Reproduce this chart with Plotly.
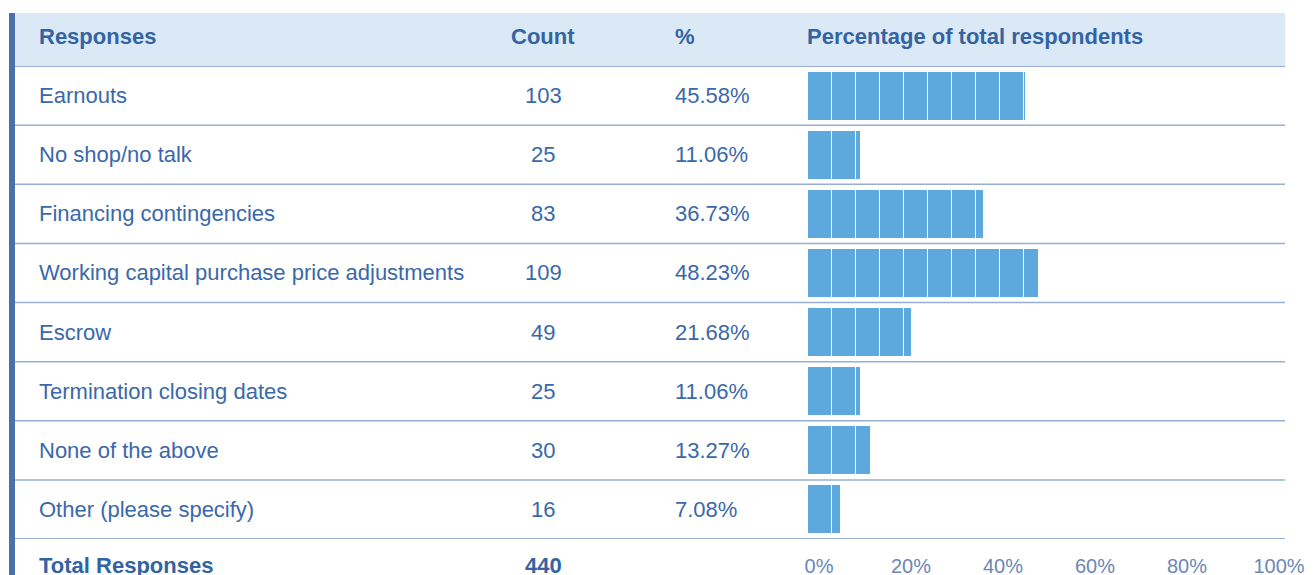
import plotly.graph_objects as go

# ---- data ----
responses = [
    "Earnouts",
    "No shop/no talk",
    "Financing contingencies",
    "Working capital purchase price adjustments",
    "Escrow",
    "Termination closing dates",
    "None of the above",
    "Other (please specify)",
]
counts = [103, 25, 83, 109, 49, 25, 30, 16]
percents = [45.58, 11.06, 36.73, 48.23, 21.68, 11.06, 13.27, 7.08]
total_label = "Total Responses"
total_count = 440
headers = ["Responses", "Count", "%", "Percentage of total respondents"]
tick_values = [0, 20, 40, 60, 80, 100]
tick_labels = ["0%", "20%", "40%", "60%", "80%", "100%"]
segment_size = 5  # bars are drawn as 5% blocks

# ---- styling ----
W, H = 1315, 575
OFF = 8  # page body margin
FONT = "Liberation Sans, Arial, Helvetica, sans-serif"
TXT = "#3A68AA"
HDR_TXT = "#3363A2"
BAR = "#5DA9DD"
HDR_BG = "#DBE9F6"
LINE = "#97AFD2"
LEFTBAR = "#4D6FAA"
TICK = "#6C86B7"

def px_x(p):
    return (p - OFF) / W

def px_y(p):
    return 1 - (p - OFF) / H

fig = go.Figure()

# stacked 5% segments
n_seg = int(max(percents) // segment_size) + 1
for k in range(n_seg):
    seg = [min(max(p - k * segment_size, 0), segment_size) for p in percents]
    fig.add_trace(go.Bar(
        x=seg, y=responses, orientation="h",
        marker=dict(color=BAR, line=dict(color="white", width=1)),
        width=0.83, hoverinfo="skip", showlegend=False,
    ))
# empty trace so the label axis is drawn
fig.add_trace(go.Scatter(x=[], y=[], xaxis="x2", yaxis="y",
                         showlegend=False, hoverinfo="skip"))

fig.update_layout(
    width=W, height=H,
    margin=dict(l=0, r=0, t=0, b=0, autoexpand=False),
    paper_bgcolor="white", plot_bgcolor="rgba(0,0,0,0)",
    barmode="stack",
    font=dict(family=FONT, color=TXT, size=22),
    xaxis=dict(
        domain=[px_x(807), px_x(1287)], range=[0, 100],
        showticklabels=False,
        showgrid=False, zeroline=False, showline=False, ticks="",
        automargin=False, fixedrange=True,
    ),
    xaxis2=dict(
        domain=[px_x(819), px_x(1279)], range=[0, 100], anchor="y",
        tickvals=tick_values, ticktext=tick_labels,
        showgrid=False, zeroline=False, showline=False, ticks="",
        tickfont=dict(size=20, color=TICK, family=FONT),
        ticklabelstandoff=13, automargin=False, fixedrange=True,
    ),
    yaxis=dict(
        domain=[px_y(539), px_y(66)], type="category",
        categoryorder="array", categoryarray=responses,
        range=[len(responses) - 0.5, -0.5],
        showticklabels=False, showgrid=False, zeroline=False,
        showline=False, ticks="", automargin=False, fixedrange=True,
    ),
)

shapes = []
# header background
shapes.append(dict(type="rect", xref="paper", yref="paper",
                   x0=px_x(15), x1=px_x(1285), y0=px_y(66), y1=px_y(13),
                   fillcolor=HDR_BG, line=dict(width=0), layer="below"))
# left accent bar
shapes.append(dict(type="rect", xref="paper", yref="paper",
                   x0=px_x(9), x1=px_x(15), y0=-0.05, y1=px_y(13),
                   fillcolor=LEFTBAR, line=dict(width=0)))
# row separators
for i in range(len(responses) + 1):
    shapes.append(dict(type="line", xref="paper", yref="y",
                       x0=px_x(15), x1=px_x(1285), y0=i - 0.5, y1=i - 0.5,
                       line=dict(color=LINE, width=2 if i in (0, len(responses)) else 1.5)))
fig.update_layout(shapes=shapes)

ann = []
hy = px_y(37)
col_x = [(px_x(37), "left"), (px_x(543), "center"), (px_x(673), "left"), (px_x(805), "left")]
for (x, anchor), h in zip(col_x, headers):
    ann.append(dict(xref="paper", yref="paper", x=x, y=hy, text=f"<b>{h}</b>",
                    xanchor=anchor, yanchor="middle", showarrow=False,
                    font=dict(color=HDR_TXT, size=22, family=FONT)))
for r, c, p in zip(responses, counts, percents):
    ann.append(dict(xref="paper", yref="y", x=px_x(37), y=r, text=r,
                    xanchor="left", yanchor="middle", showarrow=False))
    ann.append(dict(xref="paper", yref="y", x=px_x(543), y=r, text=str(c),
                    xanchor="center", yanchor="middle", showarrow=False))
    ann.append(dict(xref="paper", yref="y", x=px_x(673), y=r, text=f"{p:.2f}%",
                    xanchor="left", yanchor="middle", showarrow=False))
ty = px_y(565)
ann.append(dict(xref="paper", yref="paper", x=px_x(37), y=ty, text=f"<b>{total_label}</b>",
                xanchor="left", yanchor="middle", showarrow=False,
                font=dict(color=HDR_TXT, size=22, family=FONT)))
ann.append(dict(xref="paper", yref="paper", x=px_x(543), y=ty, text=f"<b>{total_count}</b>",
                xanchor="center", yanchor="middle", showarrow=False,
                font=dict(color=HDR_TXT, size=22, family=FONT)))
fig.update_layout(annotations=ann)

fig.write_html("out.html", config={"displayModeBar": False})
